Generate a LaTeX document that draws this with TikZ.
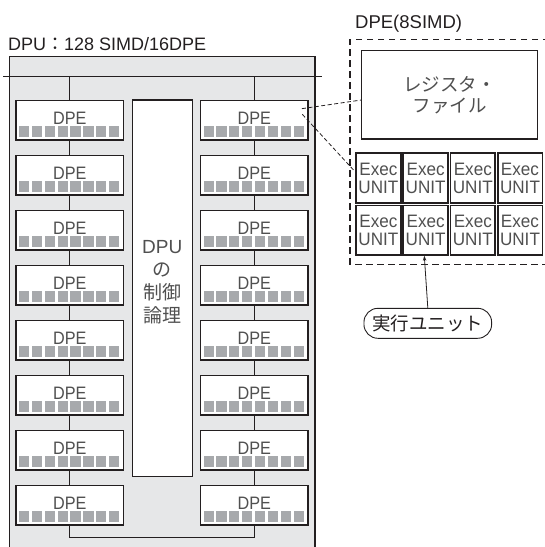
\documentclass[tikz,border=0pt]{standalone}
\usepackage{fontspec}
\setmainfont{Liberation Sans}
\newfontfamily\jp{Noto Sans CJK JP}
\newfontfamily\cond{Liberation Sans}[FakeStretch=0.9]
\newfontfamily\condb{Liberation Sans}[FakeStretch=0.95]
\usetikzlibrary{arrows.meta,calc}
\definecolor{dk}{HTML}{231F20}
\definecolor{panel}{HTML}{E6E7E8}
\definecolor{sq}{HTML}{A7A9AC}
\definecolor{txt}{HTML}{505050}
\tikzset{
  dpebox/.style={draw=dk, line width=1.3pt, fill=white, minimum width=107.6pt, minimum height=39.3pt, inner sep=0pt},
  dpetext/.style={font=\cond\fontsize{18}{18}\selectfont, text=txt, inner sep=0pt, anchor=base},
  wire/.style={draw=dk, line width=1.2pt},
  execbox/.style={draw=dk, line width=1.8pt, fill=white, minimum width=44.8pt, minimum height=49.3pt, inner sep=0pt, align=center, font=\condb\fontsize{18}{18}\selectfont, text=txt},
  bigdash/.style={draw=dk, line width=1.5pt, dash pattern=on 6.5pt off 4.5pt},
  thindash/.style={draw=dk, line width=0.8pt, dash pattern=on 4pt off 2.5pt},
}
\begin{document}
\begin{tikzpicture}[x=1pt,y=-1pt]
\useasboundingbox (0,0) rectangle (545,547);
\clip (0,0) rectangle (545,547);
% outer DPU panel
\fill[panel] (9.3,56.7) rectangle (315,560);
\draw[dk, line width=1.2pt] (9.3,560) -- (9.3,56.7) -- (315,56.7) -- (315,560);
\node[anchor=base west, font=\fontsize{18}{18}\selectfont, text=dk, inner sep=0pt] (dputitle) at (8,50) {DPU{\jp ：}128 SIMD/16DPE};
% bus
\coordinate (busW) at (3,76.7);
\coordinate (busE) at (322,76.7);
\coordinate (busS) at (0,537.7);
\draw[wire, line width=1.3pt] (busW) -- (busE);
% DPE boxes
\foreach \col/\cx in {L/69.8,R/254.3}{
  \foreach \k in {1,...,8}{
    \pgfmathsetmacro{\cy}{120.35+55*(\k-1)}
    \node[dpebox] (\col\k) at (\cx,\cy) {};
    \node[dpetext] (\col\k t) at (\cx,\cy+4) {DPE};
    \foreach \i in {0,...,7}{
      \fill[sq] (\cx-50.8+\i*12.87, \cy+5.65) rectangle ++(10.2,11.3);
    }
  }
}
% connectors
\draw[wire] (L1.north |- busW) -- (L1.north);
\draw[wire] (R1.north |- busW) -- (R1.north);
\foreach \k [evaluate=\k as \n using int(\k+1)] in {1,...,7}{
  \draw[wire] (L\k.south) -- (L\n.north);
  \draw[wire] (R\k.south) -- (R\n.north);
}
\draw[wire] (L8.south) -- (L8.south |- busS) -| (R8.south);
% control block
\node[draw=dk, line width=1.3pt, fill=white, minimum width=60pt, minimum height=376.7pt, inner sep=0pt] (ctrl) at (162.3,288.35) {};
\node[font=\fontsize{19}{23}\selectfont, text=txt, align=center, anchor=north, inner sep=0pt] (ctrlt) at (162.3,240.7) {DPU\\{\jp の}\\{\jp 制御}\\{\jp 論理}};
% DPE detail
\node[anchor=base west, font=\fontsize{18.5}{18.5}\selectfont, text=dk, inner sep=0pt] (dpetitle) at (355,28) {DPE(8SIMD)};
\draw[bigdash] (560,39.3) -- (350,39.3) -- (350,264.3) -- (560,264.3);
\node[draw=dk, line width=1.4pt, fill=white, minimum width=175.6pt, minimum height=88.3pt, inner sep=0pt, align=center, font=\jp\fontsize{18.5}{21}\selectfont, text=txt] (reg) at (449.5,94.85) {レジスタ・\\ファイル};
\foreach \r/\cy in {1/178,2/230.2}{
  \foreach \c in {1,...,4}{
    \node[execbox] (E\r\c) at ({378.4+47.2*(\c-1)},\cy) {Exec\\UNIT};
  }
}
\draw[thindash] ([xshift=-6.8pt,yshift=-8.6pt]R1.north east) -- ([yshift=-5.2pt]reg.west);
\draw[thindash] ([xshift=-6.4pt,yshift=-14.3pt]R1.north east) -- ([yshift=6.3pt]E11.west);
% label
\node[draw=dk, line width=0.9pt, rounded corners=14pt, minimum width=127.7pt, minimum height=30pt, inner sep=0pt, font=\jp\fontsize{18.5}{18.5}\selectfont, text=dk] (unitlab) at (427.8,323.3) {実行ユニット};
\draw[dk, line width=0.8pt, -{Stealth[length=5pt,width=3.5pt]}] (unitlab.north) -- ([xshift=-1.3pt]E22.south);
\end{tikzpicture}
\end{document}
